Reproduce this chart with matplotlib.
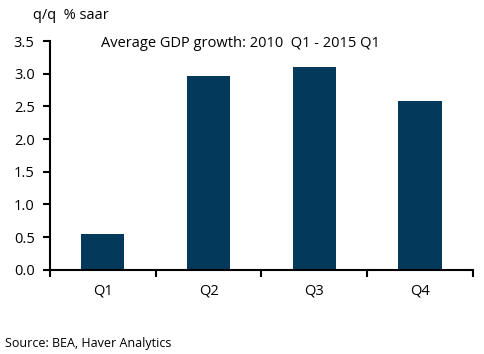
import matplotlib.pyplot as plt
import numpy as np

quarters = ["Q1", "Q2", "Q3", "Q4"]
growth = [0.55, 2.97, 3.10, 2.59]
y_ticks = [0.0, 0.5, 1.0, 1.5, 2.0, 2.5, 3.0, 3.5]

plt.rcParams['font.family'] = ['Open Sans', 'DejaVu Sans']

fig = plt.figure(figsize=(4.85, 3.54), dpi=100)
ax = fig.add_axes([0.103, 0.238, 0.872, 0.646])

x = np.arange(len(quarters))
ax.bar(x, growth, width=0.41, color="#033a5b")

ax.set_xlim(-0.5, len(quarters) - 0.5)
ax.set_ylim(0, 3.5)
ax.set_yticks(y_ticks)
ax.set_yticklabels([f"{v:.1f}" for v in y_ticks])
ax.set_xticks(x)
ax.set_xticklabels(quarters)
ax.set_xticks(np.arange(-0.5, len(quarters)), minor=True)

# Set size of tick labels and tick style.
ax.tick_params(axis='x', which='major', length=0, pad=10, labelsize=10.5)
ax.tick_params(axis='x', which='minor', length=5, width=1.5, direction='out')
ax.tick_params(axis='y', length=5, width=1.5, direction='out', pad=6, labelsize=10.5)

for side in ["top", "right"]:
    ax.spines[side].set_visible(False)
for side in ["left", "bottom"]:
    ax.spines[side].set_linewidth(1.5)

ax.text(0.12, 0.99, "Average GDP growth: 2010  Q1 - 2015 Q1", transform=ax.transAxes,
        fontsize=10.5, va="center", ha="left")
fig.text(0.068, 0.955, "q/q  % saar", fontsize=10.5, va="center", ha="left")
fig.text(0.01, 0.03, "Source: BEA, Haver Analytics", fontsize=9, va="center", ha="left")

fig.savefig("out.png", dpi=100)
